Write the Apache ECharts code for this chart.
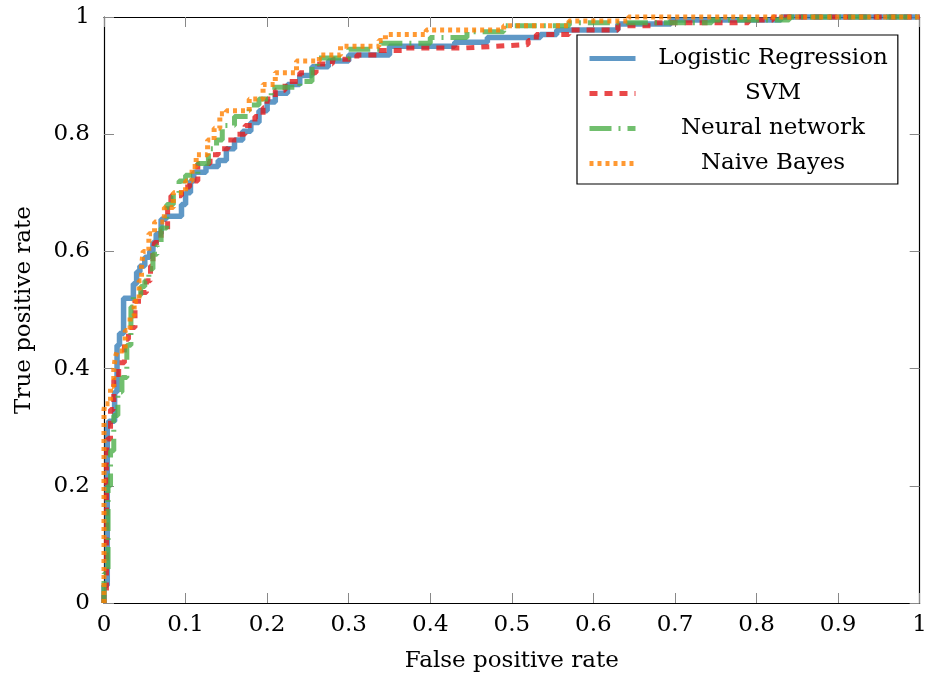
<!DOCTYPE html>
<html>
<head>
<meta charset="utf-8">
<script src="https://cdn.jsdelivr.net/npm/echarts@6/dist/echarts.min.js"></script>
<style>html,body{margin:0;padding:0;background:#fff;}#c{width:930px;height:678px;}</style>
</head>
<body>
<div id="c"></div>
<script>
// ROC points: [false positive rate, true positive rate]
const seriesNames = ['Logistic Regression', 'SVM', 'Neural network', 'Naive Bayes'];
const xTicks = [0, 0.1, 0.2, 0.3, 0.4, 0.5, 0.6, 0.7, 0.8, 0.9, 1];
const yTicks = [0, 0.2, 0.4, 0.6, 0.8, 1];

const logisticRegression = [[0,0],[0.004,0.03],[0.006,0.3],[0.013,0.31],[0.016,0.36],[0.019,0.44],[0.024,0.46],[0.026,0.52],[0.036,0.52],[0.04,0.545],[0.044,0.565],[0.05,0.575],[0.056,0.59],[0.06,0.6],[0.064,0.615],[0.07,0.63],[0.076,0.655],[0.095,0.66],[0.1,0.68],[0.106,0.7],[0.11,0.72],[0.125,0.735],[0.14,0.745],[0.15,0.755],[0.16,0.775],[0.17,0.79],[0.18,0.805],[0.19,0.82],[0.2,0.84],[0.21,0.855],[0.225,0.87],[0.24,0.885],[0.255,0.9],[0.275,0.915],[0.3,0.925],[0.35,0.935],[0.43,0.95],[0.47,0.957],[0.535,0.965],[0.555,0.97],[0.63,0.978],[0.695,0.988],[0.83,0.995],[1,1]];
const svm = [[0,0],[0.003,0.02],[0.004,0.25],[0.008,0.28],[0.012,0.33],[0.018,0.38],[0.025,0.41],[0.03,0.45],[0.038,0.47],[0.046,0.515],[0.052,0.53],[0.057,0.55],[0.06,0.575],[0.062,0.6],[0.07,0.615],[0.078,0.635],[0.082,0.68],[0.095,0.695],[0.105,0.71],[0.115,0.72],[0.13,0.75],[0.14,0.765],[0.152,0.775],[0.163,0.79],[0.173,0.8],[0.185,0.815],[0.195,0.83],[0.2,0.845],[0.21,0.86],[0.222,0.875],[0.24,0.89],[0.26,0.905],[0.28,0.92],[0.31,0.928],[0.335,0.935],[0.37,0.943],[0.44,0.947],[0.48,0.95],[0.52,0.953],[0.53,0.96],[0.57,0.97],[0.63,0.978],[0.67,0.985],[0.79,0.99],[0.82,0.995],[1,1]];
const neuralNetwork = [[0,0],[0.005,0.05],[0.008,0.2],[0.012,0.26],[0.017,0.32],[0.022,0.36],[0.028,0.385],[0.033,0.44],[0.036,0.505],[0.045,0.525],[0.05,0.54],[0.055,0.55],[0.06,0.57],[0.065,0.595],[0.07,0.61],[0.077,0.64],[0.085,0.68],[0.092,0.7],[0.1,0.72],[0.115,0.73],[0.128,0.75],[0.138,0.775],[0.145,0.79],[0.16,0.815],[0.178,0.83],[0.19,0.85],[0.205,0.86],[0.24,0.88],[0.255,0.89],[0.262,0.915],[0.3,0.93],[0.34,0.945],[0.4,0.955],[0.445,0.965],[0.49,0.975],[0.57,0.985],[0.745,0.99],[0.84,0.995],[1,1]];
const naiveBayes = [[0,0],[0.001,0.33],[0.008,0.34],[0.012,0.37],[0.014,0.4],[0.016,0.42],[0.026,0.43],[0.032,0.465],[0.037,0.49],[0.043,0.515],[0.046,0.55],[0.048,0.575],[0.055,0.6],[0.062,0.63],[0.074,0.65],[0.085,0.675],[0.1,0.7],[0.108,0.72],[0.113,0.745],[0.127,0.765],[0.135,0.79],[0.142,0.81],[0.15,0.835],[0.178,0.84],[0.195,0.86],[0.21,0.885],[0.236,0.905],[0.264,0.925],[0.29,0.935],[0.337,0.95],[0.345,0.96],[0.395,0.97],[0.49,0.978],[0.57,0.985],[0.643,0.993],[1,1]];

const seriesData = [logisticRegression, svm, neuralNetwork, naiveBayes];
const colors = ['rgba(55,126,184,0.8)', 'rgba(228,26,28,0.8)', 'rgba(77,175,74,0.8)', 'rgba(255,127,0,0.8)'];
const dashes = ['solid', [8, 7], [22, 7, 2, 7], [4, 4]];
const widths = [5.5, 5, 5, 5];

const FONT = 'DejaVu Serif';
const chart = echarts.init(document.getElementById('c'), null, {renderer: 'canvas'});

const tickStyle = {show: true, inside: true, length: 10, lineStyle: {color: '#888', width: 1}};
const axisLineStyle = {show: true, onZero: false, lineStyle: {color: '#000', width: 1.2}};

chart.setOption({
  animation: false,
  backgroundColor: '#fff',
  grid: {left: 104, right: 8, top: 17, bottom: 75, containLabel: false},
  xAxis: [{
    type: 'value', min: xTicks[0], max: xTicks[xTicks.length - 1], interval: 0.1,
    name: 'False positive rate', nameLocation: 'middle', nameGap: 47,
    nameTextStyle: {fontFamily: FONT, fontSize: 23, color: '#000'},
    axisLine: axisLineStyle, axisTick: tickStyle, splitLine: {show: false},
    axisLabel: {fontFamily: FONT, fontSize: 23, color: '#000', margin: 11,
      formatter: v => String(+v.toFixed(1))}
  }, {
    type: 'value', position: 'top', min: 0, max: 1, interval: 0.1,
    axisLine: axisLineStyle, axisTick: tickStyle, splitLine: {show: false},
    axisLabel: {show: false}
  }],
  yAxis: [{
    type: 'value', min: yTicks[0], max: yTicks[yTicks.length - 1], interval: 0.2,
    name: 'True positive rate', nameLocation: 'middle', nameGap: 68, nameRotate: 90,
    nameTextStyle: {fontFamily: FONT, fontSize: 23, color: '#000'},
    axisLine: axisLineStyle, axisTick: tickStyle, splitLine: {show: false},
    axisLabel: {fontFamily: FONT, fontSize: 23, color: '#000', margin: 14,
      formatter: v => String(+v.toFixed(1))}
  }, {
    type: 'value', position: 'right', min: 0, max: 1, interval: 0.2,
    axisLine: axisLineStyle, axisTick: tickStyle, splitLine: {show: false},
    axisLabel: {show: false}
  }],
  legend: {
    orient: 'vertical', left: 577, top: 35,
    backgroundColor: '#fff', borderColor: '#000', borderWidth: 1.2,
    padding: [12, 10, 9, 10], itemGap: 12, itemWidth: 46, itemHeight: 14,
    itemStyle: {opacity: 0},
    lineStyle: {width: 5},
    data: seriesNames,
    formatter: n => '{a|' + n + '}',
    textStyle: {rich: {a: {fontFamily: FONT, fontSize: 23, color: '#000', width: 265, align: 'center'}}}
  },
  series: seriesNames.map((n, i) => ({
    name: n, type: 'line', data: seriesData[i], step: 'start',
    showSymbol: false, symbol: 'none', clip: false,
    xAxisIndex: 0, yAxisIndex: 0,
    lineStyle: {color: colors[i], width: widths[i], type: dashes[i], cap: 'butt'},
    itemStyle: {color: colors[i]},
    emphasis: {disabled: true}
  }))
});
</script>
</body>
</html>
